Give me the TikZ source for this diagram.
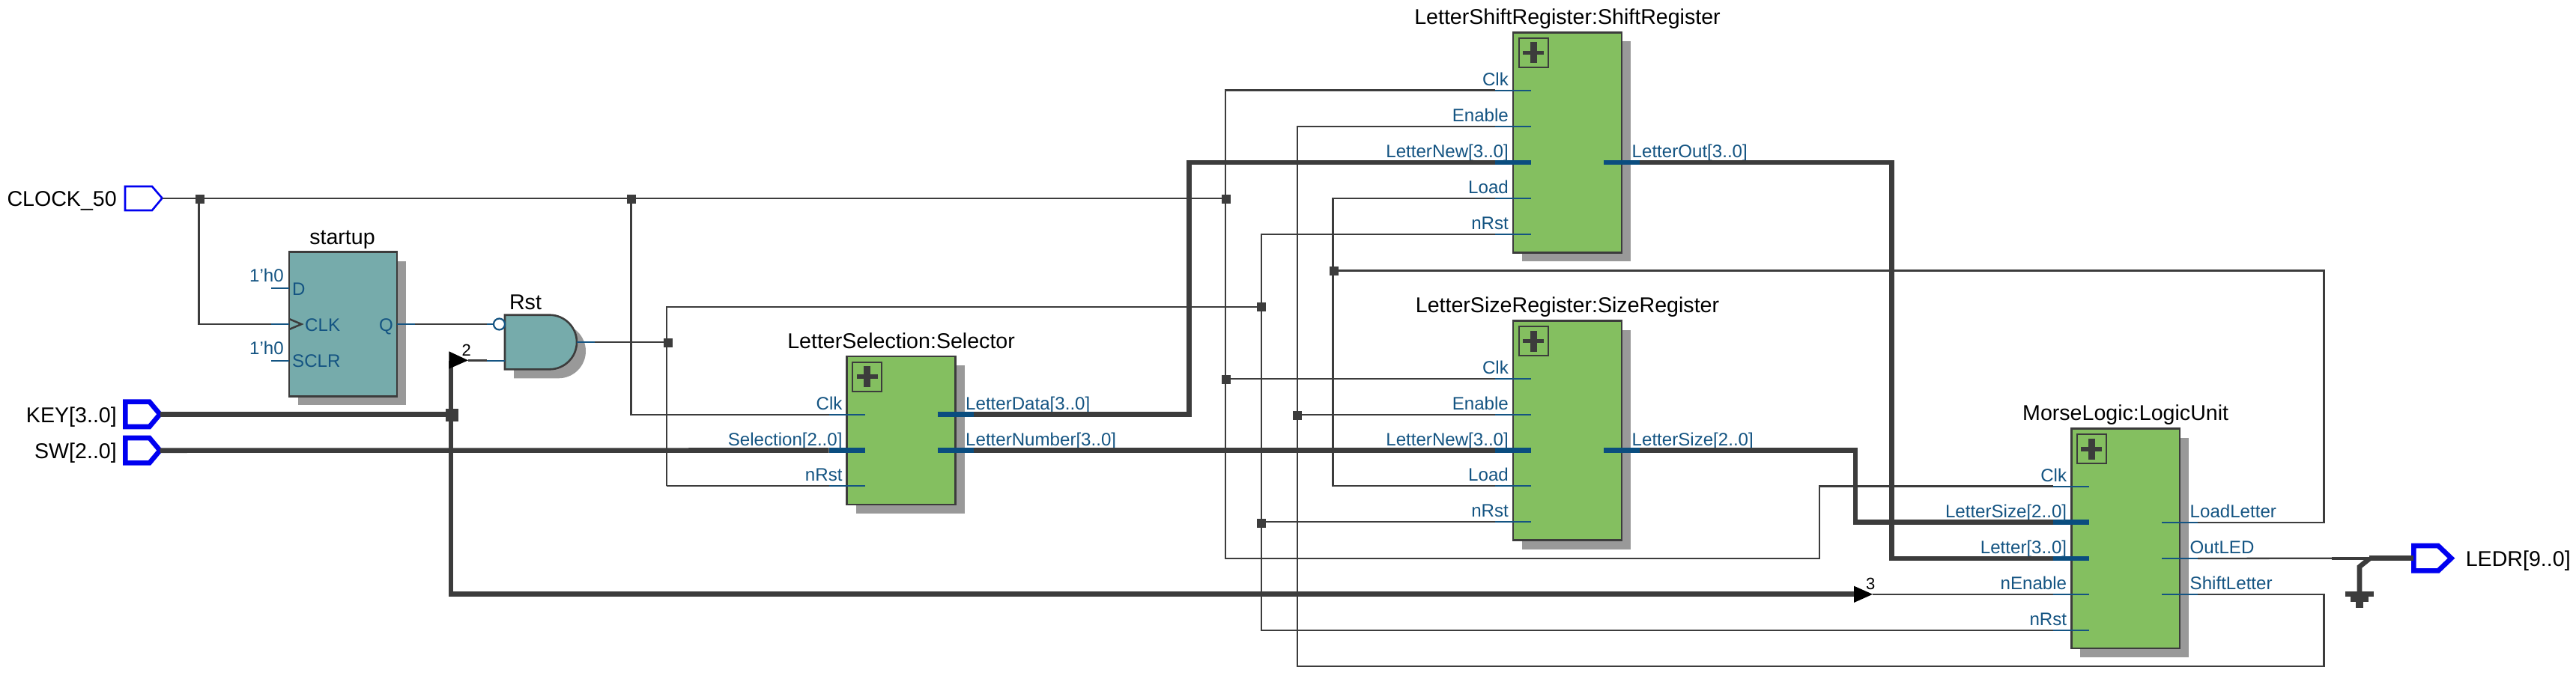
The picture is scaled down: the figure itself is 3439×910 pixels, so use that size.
\documentclass[tikz,border=0pt]{standalone}
\usepackage{fontspec}
\setmainfont{Liberation Sans}[Ligatures=ResetAll]
\definecolor{wirec}{HTML}{3C3C3C}
\definecolor{portc}{HTML}{145482}
\definecolor{busportc}{HTML}{0A4D7F}
\definecolor{greenc}{HTML}{84BF60}
\definecolor{tealc}{HTML}{76ABAB}
\definecolor{shadowc}{HTML}{999999}
\definecolor{pinc}{HTML}{0000F0}
\newcommand\bigfont{\fontsize{28.6}{30}\selectfont}
\newcommand\smallfont{\fontsize{24.1}{26}\selectfont}
\newcommand\numfont{\fontsize{22}{24}\selectfont}
\tikzset{
  wire/.style={draw=wirec,line width=2.3pt,line cap=butt,line join=miter},
  buswire/.style={draw=wirec,line width=6.6pt,line cap=butt,line join=miter},
  stubthin/.style={draw=portc,line width=2pt},
  stubbus/.style={draw=busportc,line width=6.6pt},
  blockbox/.style={rectangle,draw=wirec,line width=2.6pt,inner sep=0pt,outer sep=0pt},
  title/.style={inner sep=0pt,text=black,font=\bigfont},
  portlabel/.style={inner sep=0pt,text=portc,font=\smallfont},
  junction/.style={rectangle,fill=wirec,inner sep=0pt,minimum width=12pt,minimum height=12pt},
  busjunction/.style={rectangle,fill=wirec,inner sep=0pt,minimum width=17pt,minimum height=17pt},
  pinthin/.style={draw=pinc,line width=2.6pt,line join=miter,fill=white},
  pinbus/.style={draw=pinc,line width=6.6pt,line join=miter,fill=white},
  arrowtri/.style={fill=black,draw=none},
  numlabel/.style={inner sep=0pt,text=black,font=\numfont}
}
% name, x0, y0, x1, y1, title
\newcommand\modbox[6]{%
  \fill[shadowc] (#2+12,#3+12) rectangle (#4+12,#5+12);
  \node[blockbox,fill=greenc,minimum width={(#4-#2)*1pt},minimum height={(#5-#3)*1pt}] (#1) at ({(#2+#4)/2},{(#3+#5)/2}) {};
  \node[title,anchor=base] (#1-title) at ({(#2+#4)/2},#3-11) {#6};
  \draw[wirec,line width=2pt] (#2+7.5,#3+7.5) rectangle (#2+46.5,#3+46.5);
  \fill[wirec] (#2+13,#3+24.2) rectangle (#2+41,#3+29.8);
  \fill[wirec] (#2+22.5,#3+13) rectangle (#2+31.5,#3+41);
}
% name, box-left x, y, label, stub style
\newcommand\lport[5]{%
  \coordinate (#1) at (#2-24,#3);
  \draw[#5] (#1) -- (#2+24,#3);
  \node[portlabel,anchor=base east] (#1-l) at (#2-6,#3-6.5) {#4};
}
% name, box-right x, y, label, stub style
\newcommand\rport[5]{%
  \coordinate (#1) at (#2+24,#3);
  \draw[#5] (#2-24,#3) -- (#1);
  \node[portlabel,anchor=base west] (#1-l) at (#2+13.5,#3-6.5) {#4};
}
\begin{document}
\begin{tikzpicture}[x=1pt,y=-1pt]
\useasboundingbox (0,0) rectangle (3439,910);
\fill[white] (0,0) rectangle (3439,910);

% ---- input and output pins
\draw[pinthin] (167,249) -- (203,249) -- (216.5,264.7) -- (203,281) -- (167,281) -- cycle;
\coordinate (clkpin) at (216.5,264.7);
\node[title,anchor=base east] (clkname) at (156,275.5) {CLOCK\_50};
\draw[pinbus] (167.3,536.6) -- (199.5,536.6) -- (213.5,553.3) -- (199.5,570) -- (167.3,570) -- cycle;
\coordinate (keypin) at (213.5,553.3);
\node[title,anchor=base east] (keyname) at (156,564) {KEY[3..0]};
\draw[pinbus] (167.3,585) -- (199.5,585) -- (213.5,601.7) -- (199.5,618.4) -- (167.3,618.4) -- cycle;
\coordinate (swpin) at (213.5,601.7);
\node[title,anchor=base east] (swname) at (156,612) {SW[2..0]};
\draw[pinbus] (3222.3,729) -- (3255,729) -- (3272.5,745.7) -- (3255,762.4) -- (3222.3,762.4) -- cycle;
\coordinate (ledrpin) at (3222.3,745.7);
\node[title,anchor=base west] (ledrname) at (3291.6,756) {LEDR[9..0]};

% ---- startup register
\fill[shadowc] (398,348.7) rectangle (542,541.3);
\node[blockbox,fill=tealc,minimum width=144pt,minimum height=192.6pt] (startup) at (458,433) {};
\node[title,anchor=base] (startup-title) at (457,326.7) {startup};
\coordinate (st-clk) at (362,433);
\coordinate (st-q) at (553.5,433);
\draw[stubthin] (362,385) -- (386,385);
\draw[stubthin] (st-clk) -- (386,433);
\draw[stubthin] (362,481.7) -- (386,481.7);
\draw[stubthin] (530,433) -- (st-q);
\draw[wirec,line width=2.5pt] (386,426) -- (402.5,433) -- (386,440);
\node[portlabel,anchor=base east] (st-h1) at (379,376.7) {1'h0};
\node[portlabel,anchor=base east] (st-h2) at (379,473.3) {1'h0};
\node[portlabel,anchor=base west] (st-d) at (390,394.3) {D};
\node[portlabel,anchor=base west] (st-c) at (407,442.7) {CLK};
\node[portlabel,anchor=base west] (st-s) at (390,490) {SCLR};
\node[portlabel,anchor=base east] (st-qt) at (525,442.7) {Q};

% ---- Rst gate
\fill[shadowc,shift={(12,12)}] (674,420.7) -- (733.7,420.7) .. controls (753.7,420.7) and (770,437) .. (770,457) .. controls (770,477) and (753.7,493.3) .. (733.7,493.3) -- (674,493.3) -- cycle;
\draw[wirec,line width=2.6pt,fill=tealc] (674,420.7) -- (733.7,420.7) .. controls (753.7,420.7) and (770,437) .. (770,457) .. controls (770,477) and (753.7,493.3) .. (733.7,493.3) -- (674,493.3) -- cycle;
\node[title,anchor=base] (rst-title) at (701.5,413) {Rst};
\coordinate (rst-a) at (650,433);
\coordinate (rst-b) at (650,481.5);
\coordinate (rst-y) at (794,457);
\draw[stubthin] (rst-a) -- (659,433);
\node[circle,draw=portc,line width=2.2pt,fill=white,minimum size=15pt,inner sep=0pt] (rst-bub) at (666.5,433) {};
\draw[stubthin] (rst-b) -- (674,481.5);
\draw[stubthin] (770,457) -- (rst-y);

% ---- modules
\modbox{sel}{1130.7}{476}{1275.5}{674}{LetterSelection:Selector}
\lport{sel-clk}{1130.7}{553.7}{Clk}{stubthin}
\lport{sel-sel}{1130.7}{601.5}{Selection[2..0]}{stubbus}
\lport{sel-nrst}{1130.7}{649.3}{nRst}{stubthin}
\rport{sel-data}{1275.5}{553.7}{LetterData[3..0]}{stubbus}
\rport{sel-num}{1275.5}{601.5}{LetterNumber[3..0]}{stubbus}

\modbox{shift}{2020}{43.3}{2165}{337.3}{LetterShiftRegister:ShiftRegister}
\lport{shift-clk}{2020}{120.5}{Clk}{stubthin}
\lport{shift-en}{2020}{168.7}{Enable}{stubthin}
\lport{shift-new}{2020}{217}{LetterNew[3..0]}{stubbus}
\lport{shift-load}{2020}{265}{Load}{stubthin}
\lport{shift-nrst}{2020}{313}{nRst}{stubthin}
\rport{shift-out}{2165}{217}{LetterOut[3..0]}{stubbus}

\modbox{size}{2020}{428.5}{2165}{721.5}{LetterSizeRegister:SizeRegister}
\lport{size-clk}{2020}{506.3}{Clk}{stubthin}
\lport{size-en}{2020}{554.3}{Enable}{stubthin}
\lport{size-new}{2020}{601.5}{LetterNew[3..0]}{stubbus}
\lport{size-load}{2020}{649.3}{Load}{stubthin}
\lport{size-nrst}{2020}{697.3}{nRst}{stubthin}
\rport{size-out}{2165}{601.5}{LetterSize[2..0]}{stubbus}

\modbox{logic}{2765.3}{572.7}{2910}{866}{MorseLogic:LogicUnit}
\lport{logic-clk}{2765.3}{649.5}{Clk}{stubthin}
\lport{logic-size}{2765.3}{697.7}{LetterSize[2..0]}{stubbus}
\lport{logic-letter}{2765.3}{746}{Letter[3..0]}{stubbus}
\lport{logic-nen}{2765.3}{793.8}{nEnable}{stubthin}
\lport{logic-nrst}{2765.3}{842}{nRst}{stubthin}
\rport{logic-load}{2910}{697.7}{LoadLetter}{stubthin}
\rport{logic-out}{2910}{746}{OutLED}{stubthin}
\rport{logic-shl}{2910}{793.8}{ShiftLetter}{stubthin}

% ---- routing points
\coordinate (clkbusT) at (1636,120.5);
\coordinate (clkbusB) at (1636,745.7);
\coordinate (clkrise) at (2429,745.7);
\coordinate (clkriseT) at (2429,649.5);
\coordinate (rstT) at (1684,313);
\coordinate (rstB) at (1684,842);
\coordinate (rstL) at (890,410);
\coordinate (rstLB) at (890,649.3);
\coordinate (enT) at (1731.7,168.7);
\coordinate (enB) at (1731.7,890);
\coordinate (enR) at (3102.4,890);
\coordinate (enRT) at (3102.4,793.8);
\coordinate (loadT) at (1779.6,265);
\coordinate (loadB) at (1779.6,649.3);
\coordinate (fbR) at (3102.4,361.5);
\coordinate (fbRB) at (3102.4,697.7);
\coordinate (dataR) at (1587.5,553.7);
\coordinate (dataT) at (1587.5,217);
\coordinate (outR) at (2525.5,217);
\coordinate (outB) at (2525.5,746);
\coordinate (szR) at (2477,601.5);
\coordinate (szB) at (2477,697.7);
\coordinate (busT) at (602,481.5);
\coordinate (busB) at (602,793.7);

% ---- thin wires
\draw[wire] (clkpin) -- (1636,264.7);
\draw[wire] (265.5,264.7) -- (265.5,433) -- (st-clk);
\draw[wire] (842.5,264.7) -- (842.5,553.7) -- (sel-clk);
\draw[wire] (shift-clk) -- (clkbusT) -- (clkbusB) -- (clkrise) -- (clkriseT) -- (logic-clk);
\draw[wire] (clkbusB |- size-clk) -- (size-clk);
\draw[wire] (st-q) -- (rst-a);
\draw[wire] (rst-y) -- (890,457);
\draw[wire] (rstLB) -- (rstL) -- (1684,410);
\draw[wire] (rstLB) -- (sel-nrst);
\draw[wire] (shift-nrst) -- (rstT) -- (rstB) -- (logic-nrst);
\draw[wire] (rstT |- size-nrst) -- (size-nrst);
\draw[wire] (shift-en) -- (enT) -- (enB) -- (enR) -- (enRT) -- (logic-shl);
\draw[wire] (enT |- size-en) -- (size-en);
\draw[wire] (shift-load) -- (loadT) -- (loadB) -- (size-load);
\draw[wire] (1779.6,361.5) -- (fbR) -- (fbRB) -- (logic-load);
\draw[wire] (logic-out) -- (3113,745.7);
\draw[wire] (2500,793.8) -- (logic-nen);
\draw[wire] (625,481.5) -- (rst-b);

% ---- buses
\draw[buswire] (keypin) -- (busT |- keypin);
\draw[buswire] (busT) -- (busB) -- (2480,793.7);
\draw[buswire] (swpin) -- (sel-sel);
\draw[buswire] (sel-data) -- (dataR) -- (dataT) -- (shift-new);
\draw[buswire] (sel-num) -- (size-new);
\draw[buswire] (shift-out) -- (outR) -- (outB) -- (logic-letter);
\draw[buswire] (size-out) -- (szR) -- (szB) -- (logic-size);

% ---- bus tap arrows and widths
\fill[arrowtri] (599.3,469.3) -- (625,481.3) -- (599.3,492.7) -- cycle;
\node[numlabel,anchor=base] (n2) at (622.7,475) {2};
\fill[arrowtri] (2475,782.7) -- (2500,793.8) -- (2475,805) -- cycle;
\node[numlabel,anchor=base] (n3) at (2497.3,787) {3};

% ---- junctions
\node[junction] (j1) at (266.6,265.5) {};
\node[junction] (j2) at (843,265.5) {};
\node[junction] (j3) at (1636.7,266) {};
\node[junction] (j4) at (1636.5,506.7) {};
\node[junction] (j5) at (891.6,457.5) {};
\node[junction] (j6) at (1684.3,410) {};
\node[junction] (j7) at (1684.3,698.5) {};
\node[junction] (j8) at (1732,554.7) {};
\node[junction] (j9) at (1781,361.7) {};
\node[busjunction] (j10) at (603.3,554.5) {};

% ---- ground on LEDR
\draw[wirec,line width=3.6pt] (3113,745.7) -- (3163,745.7);
\draw[buswire] (3163,745.7) -- (ledrpin);
\coordinate (gndT) at (3150,757);
\coordinate (gndB) at (3150,790);
\draw[buswire] (3163,746.5) -- (gndT) -- (gndB);
\fill[wirec] (3131,790) rectangle (3169.3,797.3);
\fill[wirec] (3138.3,797.3) rectangle (3162.3,804.3);
\fill[wirec] (3145.3,804.3) rectangle (3155,811.7);
\end{tikzpicture}
\end{document}
